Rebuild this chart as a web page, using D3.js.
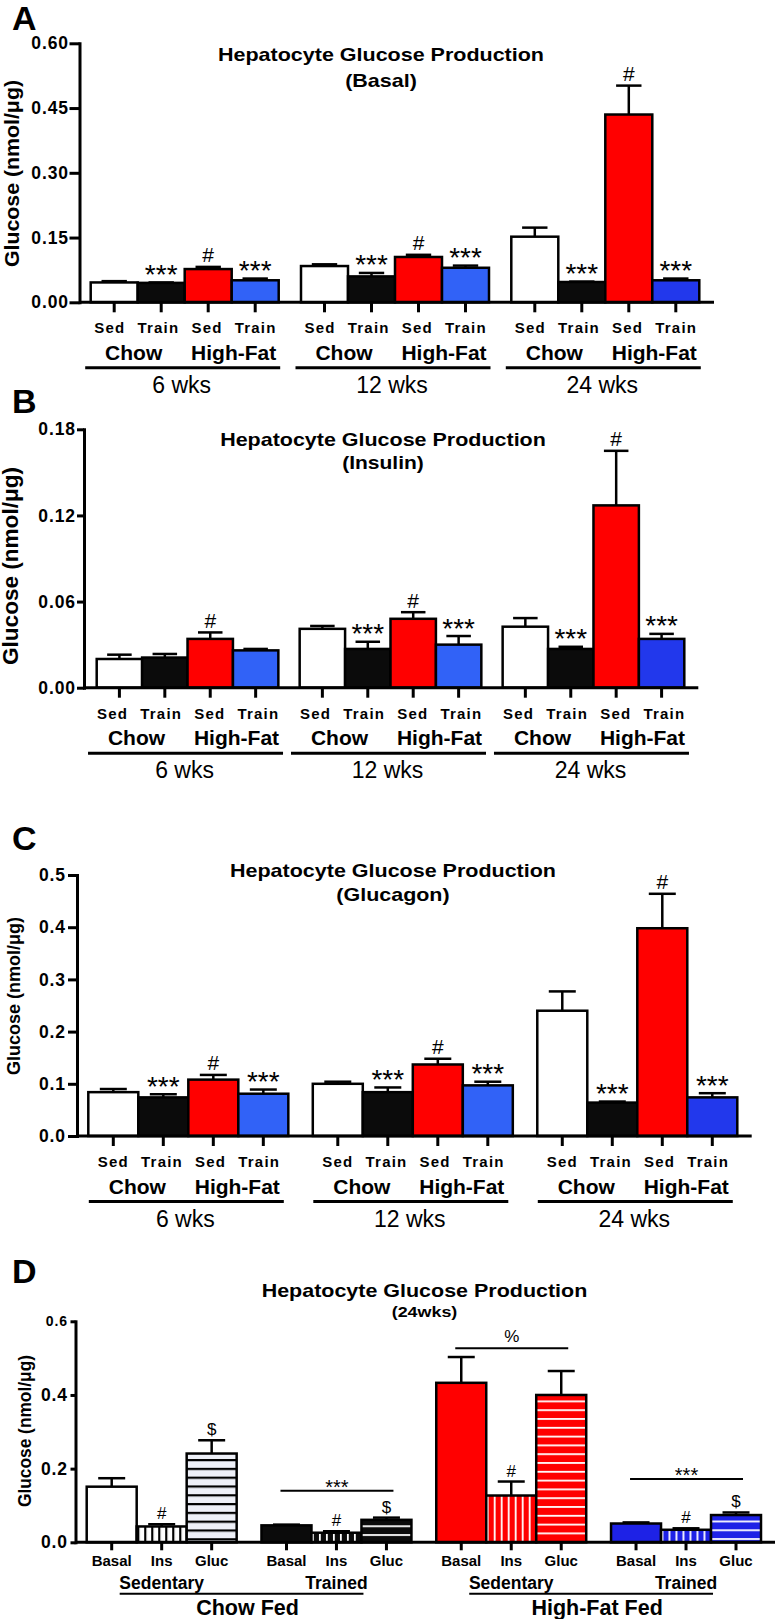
<!DOCTYPE html>
<html><head><meta charset="utf-8">
<script src="https://cdn.jsdelivr.net/npm/d3@7"></script>
<style>
html,body{margin:0;padding:0;background:#fff;overflow:hidden}
svg{display:block}
</style>
</head><body>
<svg id="chart" width="775" height="1619"></svg>
<script>
// ---------- DATA ----------
const periods = ["6 wks", "12 wks", "24 wks"];
const conditions = ["Sed", "Train", "Sed", "Train"];
const diets = ["Chow", "High-Fat"];
const yLabel = "Glucose (nmol/μg)";
const titleMain = "Hepatocyte Glucose Production";

// Panel A - Basal
const basalMean = [0.046, 0.045, 0.077, 0.051, 0.084, 0.060, 0.105, 0.080, 0.152, 0.047, 0.435, 0.051];
const basalSem  = [0.003, 0.001, 0.005, 0.004, 0.004, 0.008, 0.005, 0.005, 0.021, 0.001, 0.067, 0.004];
const basalSig  = ["", "***", "#", "***", "", "***", "#", "***", "", "***", "#", "***"];
const basalTicks = [0, 0.15, 0.30, 0.45, 0.60];

// Panel B - Insulin
const insulinMean = [0.020, 0.021, 0.034, 0.026, 0.041, 0.027, 0.048, 0.030, 0.0425, 0.027, 0.127, 0.034];
const insulinSem  = [0.003, 0.0025, 0.0045, 0.001, 0.002, 0.005, 0.0046, 0.006, 0.006, 0.0015, 0.038, 0.0035];
const insulinSig  = ["", "", "#", "", "", "***", "#", "***", "", "***", "#", "***"];
const insulinTicks = [0, 0.06, 0.12, 0.18];

// Panel C - Glucagon
const glucagonMean = [0.084, 0.074, 0.108, 0.081, 0.100, 0.084, 0.137, 0.097, 0.240, 0.064, 0.398, 0.074];
const glucagonSem  = [0.006, 0.006, 0.009, 0.008, 0.004, 0.009, 0.011, 0.007, 0.037, 0.002, 0.066, 0.008];
const glucagonSig  = ["", "***", "#", "***", "", "***", "#", "***", "", "***", "#", "***"];
const glucagonTicks = [0, 0.1, 0.2, 0.3, 0.4, 0.5];

// Panel D - 24 wks
const dGroups = ["Sedentary", "Trained", "Sedentary", "Trained"];
const dDiets = ["Chow Fed", "High-Fat Fed"];
const dStimuli = ["Basal", "Ins", "Gluc"];
const dMean = [0.151, 0.043, 0.241, 0.046, 0.026, 0.061, 0.433, 0.127, 0.400, 0.051, 0.034, 0.074];
const dSem  = [0.023, 0.006, 0.036, 0.002, 0.004, 0.006, 0.070, 0.038, 0.065, 0.003, 0.004, 0.007];
const dSig  = ["", "#", "$", "", "#", "$", "", "#", "", "", "#", "$"];
const dTicks = [0, 0.2, 0.4, 0.6];
const bracketGroups = [1, 2, 3];
const bracketLabels = ["***", "%", "***"];
const bracketValues = [0.140, 0.527, 0.172];

// ---------- DRAWING ----------
const FONT = '"Liberation Sans", Arial, Helvetica, sans-serif';
const svg = d3.select("#chart").attr("font-family", FONT);
const defs = svg.append("defs");

function panelLetter(letter, y) {
  svg.append("text").attr("x", 12).attr("y", y).attr("font-size", 34).attr("font-weight", "bold").text(letter);
}
function titles(x, ys, lines, widths, sizes) {
  lines.forEach((t, i) => svg.append("text").attr("x", x).attr("y", ys[i])
    .attr("text-anchor", "middle").attr("font-weight", "bold").attr("font-size", sizes[i])
    .attr("textLength", widths[i]).attr("lengthAdjust", "spacingAndGlyphs").text(t));
}
function yLab(x, cy, len, fs) {
  svg.append("text").attr("transform", `translate(${x},${cy}) rotate(-90)`)
    .attr("text-anchor", "middle").attr("font-weight", "bold").attr("font-size", fs)
    .attr("textLength", len).attr("lengthAdjust", "spacingAndGlyphs").text(yLabel);
}
function yAxis(cfg, y, ticks, fmt, smallTop) {
  const ax = d3.axisLeft(y).tickValues(ticks).tickFormat(d3.format(fmt))
    .tickSize(cfg.tickLen).tickPadding(cfg.tickPad).tickSizeOuter(0);
  const a = svg.append("g").attr("transform", `translate(${cfg.axisX},0)`).call(ax);
  a.select(".domain").attr("stroke", "#000").attr("stroke-width", 3).attr("stroke-linecap", "square");
  a.selectAll(".tick line").attr("stroke", "#000").attr("stroke-width", 3);
  a.selectAll(".tick text").attr("font-family", FONT).attr("font-weight", "bold")
    .attr("font-size", d => (smallTop && d === ticks[ticks.length - 1]) ? 14 : 17.5)
    .attr("letter-spacing", 0.9).attr("fill", "#000");
}

const colA = ["#ffffff", "#0b0b0b", "#ff0000"];
function barFill(k, pi) {
  if (k < 3) return colA[k];
  return pi < 2 ? "#3162f7" : "#2238ec";
}

function barPanel(cfg, means, sems, sigs, ticks, fmt, titleLines) {
  const y = d3.scaleLinear().domain([0, cfg.max]).range([cfg.y0, cfg.yTop]);
  const xg = d3.scaleBand().domain(periods).range(cfg.barsRange).paddingInner(cfg.pad).paddingOuter(0);
  const xi = d3.scaleBand().domain(d3.range(conditions.length)).range([0, xg.bandwidth()]);
  const data = means.map((m, i) => {
    const pi = Math.floor(i / 4), k = i % 4;
    const x = xg(periods[pi]) + xi(k), w = xi.bandwidth();
    return { m, s: sems[i], sig: sigs[i], pi, k, x, w, cx: x + w / 2 };
  });
  panelLetter(cfg.letter, cfg.letterY);
  titles(cfg.titleX, cfg.titleY, titleLines, cfg.titleW, [18.5, 18.5]);
  yLab(cfg.ylab.x, cfg.ylab.cy, cfg.ylab.len, cfg.ylab.fs);

  const g = svg.append("g");
  // error bars
  data.forEach(d => {
    const yt = y(d.m + d.s), cw = d.w * 0.54;
    g.append("line").attr("x1", d.cx).attr("x2", d.cx).attr("y1", y(d.m)).attr("y2", yt)
      .attr("stroke", "#000").attr("stroke-width", 2.5);
    g.append("line").attr("x1", d.cx - cw / 2).attr("x2", d.cx + cw / 2).attr("y1", yt).attr("y2", yt)
      .attr("stroke", "#000").attr("stroke-width", 2.5);
  });
  // bars
  g.selectAll("rect.bar").data(data).join("rect").attr("class", "bar")
    .attr("x", d => d.x).attr("y", d => y(d.m)).attr("width", d => d.w)
    .attr("height", d => y(0) - y(d.m)).attr("fill", d => barFill(d.k, d.pi))
    .attr("stroke", "#000").attr("stroke-width", 2.5);
  // annotations
  data.filter(d => d.sig).forEach(d => {
    const yt = y(d.m + d.s);
    if (d.sig === "#") {
      g.append("text").attr("x", d.cx).attr("y", yt - 4.5).attr("text-anchor", "middle")
        .attr("font-size", 21).text("#");
    } else {
      g.append("text").attr("x", d.cx).attr("y", yt + 1.5).attr("text-anchor", "middle")
        .attr("font-size", 28).text(d.sig);
    }
  });
  // axes
  yAxis(cfg, y, ticks, fmt, false);
  g.append("line").attr("x1", cfg.axisX).attr("x2", cfg.axisEnd).attr("y1", y(0)).attr("y2", y(0))
    .attr("stroke", "#000").attr("stroke-width", 3);
  data.forEach(d => g.append("line").attr("x1", d.cx).attr("x2", d.cx).attr("y1", y(0)).attr("y2", y(0) + 10)
    .attr("stroke", "#000").attr("stroke-width", 3));
  // category labels
  periods.forEach(p => {
    const bc = xg(p) + xg.bandwidth() / 2 - 2;
    conditions.forEach((c, k) => g.append("text").attr("x", bc + (k - 1.5) * 48.6).attr("y", cfg.y0 + 31)
      .attr("text-anchor", "middle").attr("font-weight", "bold").attr("font-size", 15)
      .attr("letter-spacing", 1.2).text(c));
    diets.forEach((dn, j) => g.append("text").attr("x", bc + (j === 0 ? -49 : 51)).attr("y", cfg.y0 + 57.5)
      .attr("text-anchor", "middle").attr("font-weight", "bold").attr("font-size", 21).text(dn));
    g.append("line").attr("x1", bc - 97.5).attr("x2", bc + 97.5).attr("y1", cfg.y0 + 65.5).attr("y2", cfg.y0 + 65.5)
      .attr("stroke", "#000").attr("stroke-width", 3);
    g.append("text").attr("x", bc - 1).attr("y", cfg.y0 + 90.5).attr("text-anchor", "middle")
      .attr("font-size", 23).text(p);
  });
}

barPanel({ letter: "A", letterY: 30, axisX: 79.5, axisEnd: 714, y0: 302.3, yTop: 43.3, max: 0.6,
  tickLen: 10, tickPad: 0.5, barsRange: [90.7, 699.3], pad: 0.106,
  titleX: 381, titleY: [61, 87], titleW: [326, 71.7], ylab: { x: 19, cy: 173.5, len: 187, fs: 21 } },
  basalMean, basalSem, basalSig, basalTicks, ".2f", [titleMain, "(Basal)"]);

barPanel({ letter: "B", letterY: 413, axisX: 84, axisEnd: 698.3, y0: 687.7, yTop: 429.3, max: 0.18,
  tickLen: 7, tickPad: 1, barsRange: [96.7, 684.3], pad: 0.105,
  titleX: 383, titleY: [446, 469], titleW: [325.7, 81.6], ylab: { x: 18, cy: 566, len: 198, fs: 21.5 } },
  insulinMean, insulinSem, insulinSig, insulinTicks, ".2f", [titleMain, "(Insulin)"]);

barPanel({ letter: "C", letterY: 850, axisX: 77, axisEnd: 751.7, y0: 1136, yTop: 875, max: 0.5,
  tickLen: 9, tickPad: 2, barsRange: [88.3, 737.3], pad: 0.109,
  titleX: 393, titleY: [877, 901], titleW: [326, 113.3], ylab: { x: 20, cy: 996, len: 158, fs: 19 } },
  glucagonMean, glucagonSem, glucagonSig, glucagonTicks, ".1f", [titleMain, "(Glucagon)"]);

// ---------- Panel D ----------
(function () {
  const cfg = { axisX: 75.5, axisEnd: 775, y0: 1542.3, yTop: 1321.3, max: 0.6, tickLen: 5, tickPad: 2.5,
    barsRange: [86.7, 761], pad: 0.142 };
  const y = d3.scaleLinear().domain([0, cfg.max]).range([cfg.y0, cfg.yTop]);
  const xg = d3.scaleBand().domain(d3.range(dGroups.length)).range(cfg.barsRange).paddingInner(cfg.pad).paddingOuter(0);
  const xi = d3.scaleBand().domain(dStimuli).range([0, xg.bandwidth()]);
  const base = ["#ffffff", "#0b0b0b", "#ff0000", "#1e22e6"];
  const data = dMean.map((m, i) => {
    const gi = Math.floor(i / 3), k = i % 3;
    const x = xg(gi) + xi(dStimuli[k]), w = xi.bandwidth();
    return { m, s: dSem[i], sig: dSig[i], gi, k, x, w, cx: x + w / 2, i };
  });
  panelLetter("D", 1283);
  titles(424.5, [1297, 1317], [titleMain, "(24wks)"], [325.6, 65.6], [18.5, 15]);
  yLab(31, 1431, 152, 17.5);

  // patterns
  data.forEach(d => {
    if (d.k === 0) { d.fill = base[d.gi]; return; }
    const id = "pat" + d.i;
    const stripe = d.gi === 0 ? "#000" : "#fff";
    const bg = d.gi === 0 ? (d.k === 2 ? "#eef0f8" : "#fff") : base[d.gi];
    const lw = d.gi === 0 ? 2.2 : 1.8;
    const pat = defs.append("pattern").attr("id", id).attr("patternUnits", "userSpaceOnUse");
    if (d.k === 1) {
      const sp = 7;
      pat.attr("x", d.x + 7.5).attr("y", 0).attr("width", sp).attr("height", 20);
      pat.append("rect").attr("width", sp).attr("height", 20).attr("fill", bg);
      pat.append("rect").attr("x", 0).attr("y", 0).attr("width", lw).attr("height", 20).attr("fill", stripe);
    } else {
      const sp = 8.8;
      pat.attr("x", 0).attr("y", y(d.m) + 5.5).attr("width", 20).attr("height", sp);
      pat.append("rect").attr("width", 20).attr("height", sp).attr("fill", bg);
      pat.append("rect").attr("x", 0).attr("y", 0).attr("width", 20).attr("height", lw).attr("fill", stripe);
    }
    d.fill = `url(#${id})`;
  });

  const g = svg.append("g");
  data.forEach(d => {
    const yt = y(d.m + d.s), cw = d.w * 0.54;
    g.append("line").attr("x1", d.cx).attr("x2", d.cx).attr("y1", y(d.m)).attr("y2", yt)
      .attr("stroke", "#000").attr("stroke-width", 2.5);
    g.append("line").attr("x1", d.cx - cw / 2).attr("x2", d.cx + cw / 2).attr("y1", yt).attr("y2", yt)
      .attr("stroke", "#000").attr("stroke-width", 2.5);
  });
  g.selectAll("rect.bar").data(data).join("rect").attr("class", "bar")
    .attr("x", d => d.x).attr("y", d => y(d.m)).attr("width", d => d.w)
    .attr("height", d => y(0) - y(d.m)).attr("fill", d => d.fill)
    .attr("stroke", "#000").attr("stroke-width", 2.5);
  data.filter(d => d.sig).forEach(d => {
    g.append("text").attr("x", d.cx).attr("y", y(d.m + d.s) - 5).attr("text-anchor", "middle")
      .attr("font-size", 17).text(d.sig);
  });
  // brackets
  bracketGroups.forEach((gi, j) => {
    const c1 = xg(gi) + xi(dStimuli[0]) + xi.bandwidth() / 2;
    const c3 = xg(gi) + xi(dStimuli[2]) + xi.bandwidth() / 2;
    const x1 = c1 - 0.12 * xi.bandwidth(), x2 = c3 + 0.14 * xi.bandwidth();
    const ly = y(bracketValues[j]);
    g.append("line").attr("x1", x1).attr("x2", x2).attr("y1", ly).attr("y2", ly)
      .attr("stroke", "#000").attr("stroke-width", 2);
    const isStar = bracketLabels[j] === "***";
    g.append("text").attr("x", (x1 + x2) / 2).attr("y", isStar ? ly + 3 : ly - 6)
      .attr("text-anchor", "middle").attr("font-size", isStar ? 20 : 17).text(bracketLabels[j]);
  });
  // axes
  yAxis(cfg, y, dTicks, ".1f", true);
  g.append("line").attr("x1", cfg.axisX).attr("x2", cfg.axisEnd).attr("y1", y(0)).attr("y2", y(0))
    .attr("stroke", "#000").attr("stroke-width", 3);
  data.forEach(d => g.append("line").attr("x1", d.cx).attr("x2", d.cx).attr("y1", y(0)).attr("y2", y(0) + 8)
    .attr("stroke", "#000").attr("stroke-width", 3));
  // labels
  data.forEach(d => g.append("text").attr("x", d.cx).attr("y", cfg.y0 + 24).attr("text-anchor", "middle")
    .attr("font-weight", "bold").attr("font-size", 15).text(dStimuli[d.k]));
  dGroups.forEach((lab, gi) => g.append("text").attr("x", xg(gi) + xg.bandwidth() / 2).attr("y", cfg.y0 + 46.5)
    .attr("text-anchor", "middle").attr("font-weight", "bold").attr("font-size", 17.5).text(lab));
  dDiets.forEach((lab, j) => {
    const sedC = xg(j * 2) + xg.bandwidth() / 2, trC = xg(j * 2 + 1) + xg.bandwidth() / 2;
    const x1 = sedC - 42, x2 = trC + 27, ly = cfg.y0 + 51.5;
    g.append("line").attr("x1", x1).attr("x2", x2).attr("y1", ly).attr("y2", ly)
      .attr("stroke", "#000").attr("stroke-width", 2);
    g.append("text").attr("x", (x1 + x2) / 2 + 6).attr("y", cfg.y0 + 73).attr("text-anchor", "middle")
      .attr("font-weight", "bold").attr("font-size", 21.5).text(lab);
  });
})();
</script>
</body></html>
